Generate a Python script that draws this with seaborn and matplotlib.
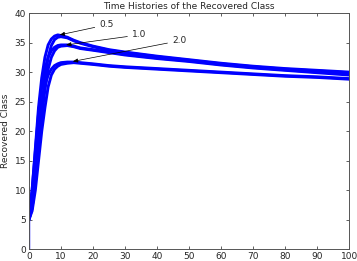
import numpy as np
import pandas as pd
import matplotlib
matplotlib.use("Agg")
import matplotlib.pyplot as plt
import seaborn as sns

# time samples (days)
t = [0, 1, 2, 3, 4, 5, 6, 7, 8, 9, 10, 12, 14, 16, 20, 25, 30, 40, 50, 60, 70, 80, 90, 100]

# recovered class, two members per parameter group (early / late rise)
r_05_early = [5.5, 10, 17, 24, 29, 32.5, 34.6, 35.6, 36.1, 36.3, 36.2, 35.9, 35.4, 35.0, 34.4, 33.8, 33.4, 32.7, 32.1, 31.5, 31.0, 30.6, 30.3, 30.0]
r_05_late = [5.0, 7, 12, 18, 24, 29, 32.5, 34.5, 35.5, 35.9, 36.0, 35.8, 35.3, 34.9, 34.3, 33.7, 33.3, 32.6, 32.0, 31.4, 30.9, 30.5, 30.2, 29.9]
r_10_early = [5.5, 10, 16.5, 23, 27.5, 30.5, 32.5, 33.6, 34.2, 34.5, 34.6, 34.6, 34.4, 34.1, 33.8, 33.4, 33.0, 32.4, 31.9, 31.3, 30.8, 30.4, 30.0, 29.7]
r_10_late = [5.0, 7, 11.5, 17, 22.5, 27, 30.5, 32.5, 33.6, 34.2, 34.4, 34.5, 34.3, 34.0, 33.7, 33.3, 32.9, 32.3, 31.8, 31.2, 30.7, 30.3, 29.9, 29.5]
r_20_early = [5.5, 9, 14.5, 20, 24.5, 27.8, 29.5, 30.5, 31.1, 31.4, 31.6, 31.7, 31.7, 31.6, 31.4, 31.1, 30.9, 30.6, 30.3, 30.0, 29.7, 29.4, 29.2, 28.9]
r_20_late = [5.0, 6.5, 10, 15, 20, 24, 27.5, 29.5, 30.5, 31.0, 31.3, 31.5, 31.6, 31.5, 31.3, 31.0, 30.8, 30.5, 30.2, 29.9, 29.6, 29.3, 29.1, 28.8]

# jump at t = 0
t_jump = [0, 0]
r_jump = [0, 5]

labels = ["0.5", "1.0", "2.0"]
label_tips = [(9.6, 36.3), (11.6, 34.6), (13.7, 31.8)]
label_pos = [(22.0, 38.0), (32.2, 36.3), (44.7, 35.3)]

curves = [r_05_early, r_05_late, r_10_early, r_10_late, r_20_early, r_20_late]

sns.set_style("white")
plt.rcParams['font.family'] = ['DejaVu Sans']

fig = plt.figure(figsize=(3.57, 2.61), dpi=100)
ax = fig.add_axes([0.081, 0.045, 0.897, 0.905])

for r in curves:
    sns.lineplot(x=t, y=r, ax=ax, color='#0000ff', lw=2.1)
sns.lineplot(x=t_jump, y=r_jump, ax=ax, color='#0000ff', lw=1.0, estimator=None, sort=False)

for lab, tip, pos in zip(labels, label_tips, label_pos):
    ax.annotate(lab, xy=tip, xytext=pos, ha='left', va='center', fontsize=6.5,
                arrowprops=dict(arrowstyle='-|>,head_length=0.45,head_width=0.18',
                                color='black', lw=0.5, shrinkA=1, shrinkB=0))

ax.set_xlim(0, 100)
ax.set_ylim(0, 40)
ax.set_xticks(np.arange(0, 101, 10))
ax.set_yticks(np.arange(0, 41, 5))
ax.tick_params(direction='in', length=2.5, width=0.6, labelsize=6.5, pad=2,
               top=True, right=True, bottom=True, left=True, color='#444444')
for s in ax.spines.values():
    s.set_color('#555555')
    s.set_linewidth(0.7)
ax.set_title('Time Histories of the Recovered Class', fontsize=6.5, pad=3)
ax.set_ylabel('Recovered Class', fontsize=6.5, labelpad=3)

fig.savefig('out.png', dpi=100)
